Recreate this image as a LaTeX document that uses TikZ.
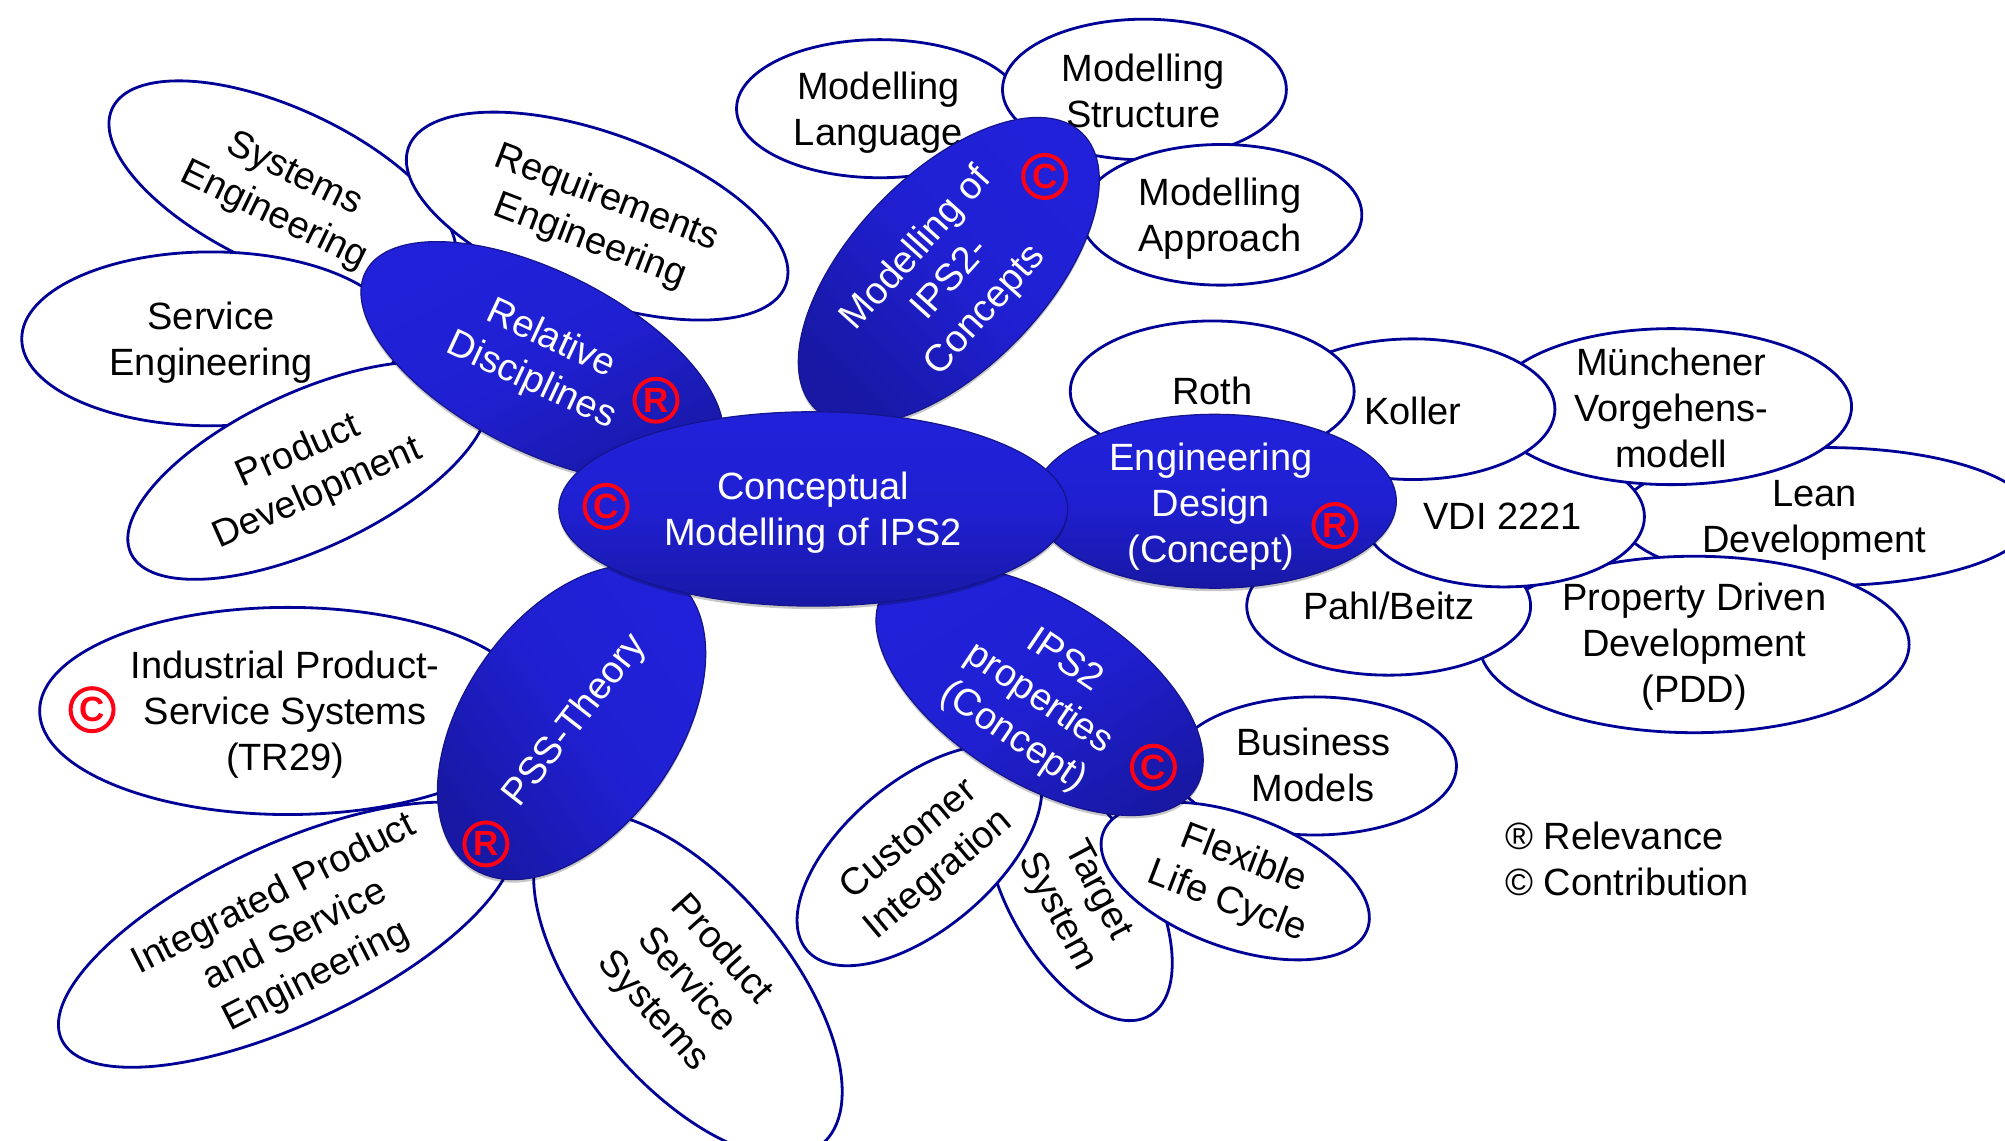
\documentclass[tikz,border=0pt]{standalone}
\usepackage{fontspec}
\setmainfont{Liberation Sans}
\usetikzlibrary{shapes.geometric,shadows}
\definecolor{leafline}{RGB}{0,0,150}
\definecolor{bluetop}{RGB}{33,33,218}
\definecolor{bluebot}{RGB}{24,24,165}
\definecolor{symred}{RGB}{255,0,20}
\tikzset{
  x=1.2787pt,y=-1.2787pt,
  radii/.style 2 args={minimum width=#1*2.5574pt,minimum height=#2*2.5574pt},
  leaf/.style={ellipse,inner sep=0pt,draw=leafline,line width=2.8pt,fill=white},
  core/.style={ellipse,inner sep=0pt,draw=bluebot!85!black,line width=1.2pt,
    top color=bluetop,bottom color=bluebot,middle color=bluetop!85!bluebot,
    drop shadow={shadow xshift=0pt,shadow yshift=-3pt,opacity=.22,fill=black}},
  txt/.style={align=center,inner sep=0pt,font=\fontsize{38}{46}\selectfont,text=black},
  wtxt/.style={txt,text=white},
  sym/.style={circle,draw=symred,line width=4pt,minimum size=43pt,inner sep=0pt,text=symred,
    font=\fontsize{35}{35}\selectfont\bfseries},
}
\begin{document}
\begin{tikzpicture}
\useasboundingbox (0,0) rectangle (1568,892.3);
\fill[white] (0,0) rectangle (1568,892.3);
% white leaves
\node[leaf,radii={147}{62},rotate=-25] (eSys) at (221,147) {};
\node[leaf,radii={157}{65},rotate=-20] (eReq) at (467,169) {};
\node[leaf,radii={148}{68}] (eSrv) at (165,265) {};
\node[leaf,radii={153}{61},rotate=25] (ePrd) at (241,368) {};
\node[leaf,radii={112}{54}] (eLng) at (688,85) {};
\node[leaf,radii={111}{55}] (eStr) at (895,70) {};
\node[leaf,radii={110}{55}] (eApp) at (955,168) {};
\node[leaf,radii={162}{54}] (eLean) at (1428,404) {};
\node[leaf,radii={168}{69}] (ePDD) at (1325,504) {};
\node[leaf,radii={111}{54}] (ePahl) at (1086,474) {};
\node[leaf,radii={110}{55}] (eVDI) at (1176,404) {};
\node[leaf,radii={141}{61}] (eMun) at (1307,318) {};
\node[leaf,radii={111}{55}] (eKol) at (1105,320) {};
\node[leaf,radii={111}{55}] (eRoth) at (948,306) {};
\node[leaf,radii={111}{54}] (eBus) at (1028,599) {};
\node[leaf,radii={110}{55},rotate=-60] (eTar) at (844,699) {};
\node[leaf,radii={115}{58},rotate=40] (eCus) at (719,669) {};
\node[leaf,radii={110}{52},rotate=-20] (eFlx) at (966,689) {};
\node[leaf,radii={194}{81}] (eInd) at (225,556) {};
\node[leaf,radii={194}{70},rotate=25] (eInt) at (224,731) {};
\node[leaf,radii={163}{78},rotate=-50] (ePSS) at (538,770) {};
% leaf labels
\node[txt,rotate=-26] (tSys) at (222,153) {Systems\\Engineering};
\node[txt,rotate=-21] (tReq) at (468,172) {Requirements\\Engineering};
\node[txt] (tSrv) at (165,268) {Service\\Engineering};
\node[txt,rotate=24] (tPrd) at (241,370) {Product\\Development};
\node[txt] (tLng) at (687,88) {Modelling\\Language};
\node[txt] (tStr) at (894,71) {Modelling\\Structure};
\node[txt] (tApp) at (954,171) {Modelling\\Approach};
\node[txt] (tRoth) at (948,306) {Roth};
\node[txt] (tKol) at (1105,321) {Koller};
\node[txt] (tMun) at (1307,319) {Münchener\\Vorgehens-\\modell};
\node[txt] (tVDI) at (1175,404) {VDI 2221};
\node[txt] (tLean) at (1419,407) {Lean\\Development};
\node[txt] (tPahl) at (1086,474) {Pahl/Beitz};
\node[txt] (tPDD) at (1325,506) {Property Driven\\Development\\(PDD)};
\node[txt] (tBus) at (1027,598) {Business\\Models};
\node[txt,rotate=-21] (tFlx) at (966,689) {Flexible\\Life Cycle};
\node[txt,rotate=-62] (tTar) at (842,705) {Target\\System};
\node[txt,rotate=40] (tCus) at (723,671) {Customer\\Integration};
\node[txt] (tInd) at (223,559) {Industrial Product-\\Service Systems\\(TR29)};
\node[txt,rotate=27] (tInt) at (231,732) {Integrated Product\\and Service\\Engineering};
\node[txt,rotate=-48] (tPSS) at (537,767) {Product\\Service\\Systems};
% blue ellipses
\node[core,radii={155}{70},rotate=-27,shading angle=27] (bRel) at (424,283) {};
\node[core,radii={150}{76},rotate=46,shading angle=-46] (bMod) at (742,212) {};
\node[core,radii={144}{72},rotate=-32,shading angle=32] (bPro) at (813,540) {};
\node[core,radii={138}{84},rotate=55,shading angle=-55] (bPss) at (447,565) {};
\node[core,radii={142}{68}] (bEng) at (950,392) {};
\node[core,radii={199}{76}] (bCen) at (636,398) {};
% blue labels
\node[wtxt] (tCen) at (636,401) {Conceptual\\Modelling of IPS2};
\node[wtxt,rotate=-25] (tRel) at (423,282) {Relative\\Disciplines};
\node[wtxt,rotate=48] (tMod) at (744,219) {Modelling of\\IPS2-\\Concepts};
\node[wtxt] (tEng) at (947,396) {Engineering\\Design\\(Concept)};
\node[wtxt,rotate=-34] (tPro) at (812,547) {IPS2\\properties\\(Concept)};
\node[wtxt,rotate=52] (tPst) at (450,564) {PSS-Theory};
% marks
\node[sym] (sRel) at (513,313) {R};
\node[sym] (sMod) at (817,138) {C};
\node[sym] (sCen) at (474,396) {C};
\node[sym] (sEng) at (1044,411) {R};
\node[sym] (sPro) at (902,600) {C};
\node[sym] (sPss) at (380,660) {R};
\node[sym] (sInd) at (72,555) {C};
% legend
\node[txt,align=left,anchor=west] (legend) at (1177,672) {® Relevance\\© Contribution};
\end{tikzpicture}
\end{document}
